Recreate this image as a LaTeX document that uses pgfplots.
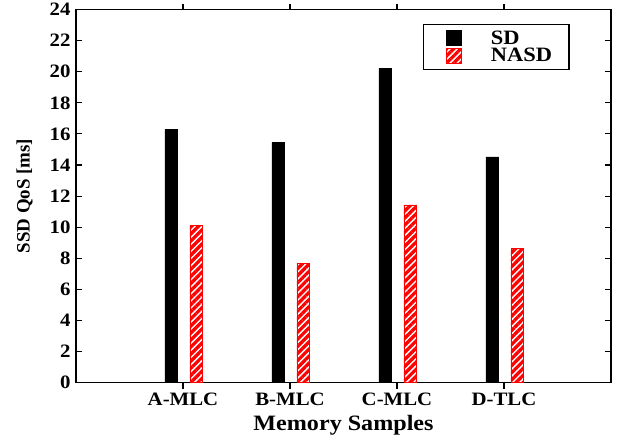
\documentclass[border=0pt]{standalone}
\usepackage{fontspec}
\setmainfont{Liberation Serif}[FakeStretch=1.1]
\newfontfamily\ylfont{Liberation Serif}
\usepackage{pgfplots}
\pgfplotsset{compat=1.18}
\usetikzlibrary{patterns.meta}
\newcommand\lbl{\fontsize{19}{21}\selectfont\bfseries}

\begin{document}
\begin{tikzpicture}
\begin{axis}[
  scale only axis,
  width=535bp, height=373bp,
  xmin=0, xmax=5, ymin=0, ymax=24,
  xtick={1,2,3,4},
  xticklabels={A-MLC,B-MLC,C-MLC,D-TLC},
  ytick={0,2,...,24},
  /pgf/number format/assume math mode=true,
  tick label style={font=\lbl},
  xlabel style={font=\fontsize{22}{24}\selectfont\bfseries, yshift=-3bp},
  ylabel style={font=\ylfont\lbl, at={(axis description cs:-0.096,0.5)},
    anchor=center, rotate=0},
  xlabel={Memory Samples},
  ylabel={SSD QoS [ms]},
  y tick label style={xshift=-2bp},
  tick align=inside,
  major tick length=6bp,
  tick style={black, line width=1.1pt},
  axis line style={line width=1.3pt},
  xtick pos=both, ytick pos=both,
  x tick label style={yshift=-1bp},
  ybar, bar width=0.12,
  legend style={at={(0.649,0.962)}, anchor=north west, draw=black,
    line width=1.1pt, font=\fontsize{20.5}{22}\selectfont\bfseries,
    inner xsep=4bp, inner ysep=6bp, row sep=1.5bp,
    nodes={inner ysep=0.5bp},
    cells={anchor=west}},
  legend image code/.code={\path (0bp,0bp) (60bp,0bp);
    \draw[#1, line width=0.8pt] (18bp,-7.5bp) rectangle (33bp,7.5bp);},
]
\addplot[bar shift=-0.11, fill=black, draw=black] coordinates {
  (1,16.3) (2,15.44) (3,20.2) (4,14.52)
};
\addlegendentry{SD}
\addplot[bar shift=0.125, draw=red, line width=0.8pt,
  pattern={Lines[angle=45, distance=5bp, line width=3.3bp]}, pattern color=red] coordinates {
  (1,10.12) (2,7.66) (3,11.43) (4,8.62)
};
\addlegendentry{NASD\kern11bp}
\end{axis}
\path (current axis.south west) ++(-76bp,0) (current axis.north east) ++(16bp,0);
\end{tikzpicture}
\end{document}
